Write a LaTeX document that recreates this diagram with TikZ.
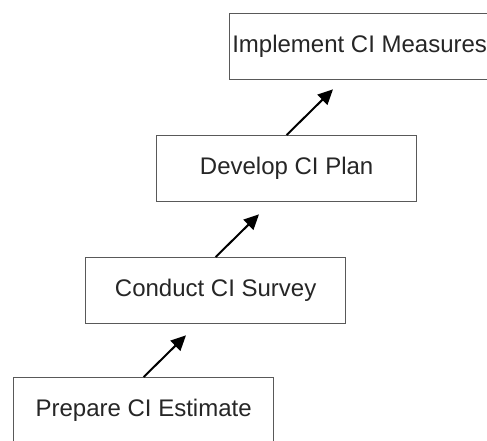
\documentclass[tikz,border=0pt]{standalone}
\usepackage{fontspec}
\setmainfont{Liberation Sans}
\usetikzlibrary{arrows.meta,calc}
\begin{document}
\begin{tikzpicture}[x=1pt,y=-1pt,
  stepbox/.style={draw=black!65, line width=1.3pt, fill=white, anchor=north west,
    minimum width=260pt, minimum height=66pt, inner sep=0pt,
    text height=17pt, text depth=5pt,
    font=\fontsize{24}{28}\selectfont, text=black!85},
  flow/.style={line width=2pt, -{Triangle[length=15pt,width=14pt]}}]
\useasboundingbox[fill=white] (0,0) rectangle (487,440);
\node[stepbox] (p) at (13,377) {Prepare CI Estimate};
\node[stepbox] (c) at (85,257) {Conduct CI Survey};
\node[stepbox] (d) at (156,135) {Develop CI Plan};
\node[stepbox] (i) at (229,13) {Implement CI Measures};
\coordinate (t1) at ($(c.south west)+(101,11)$);
\coordinate (t2) at ($(d.south west)+(103,12)$);
\coordinate (t3) at ($(i.south west)+(104,9)$);
\draw[flow] (p.north) -- (t1);
\draw[flow] (c.north) -- (t2);
\draw[flow] (d.north) -- (t3);
\end{tikzpicture}
\end{document}
